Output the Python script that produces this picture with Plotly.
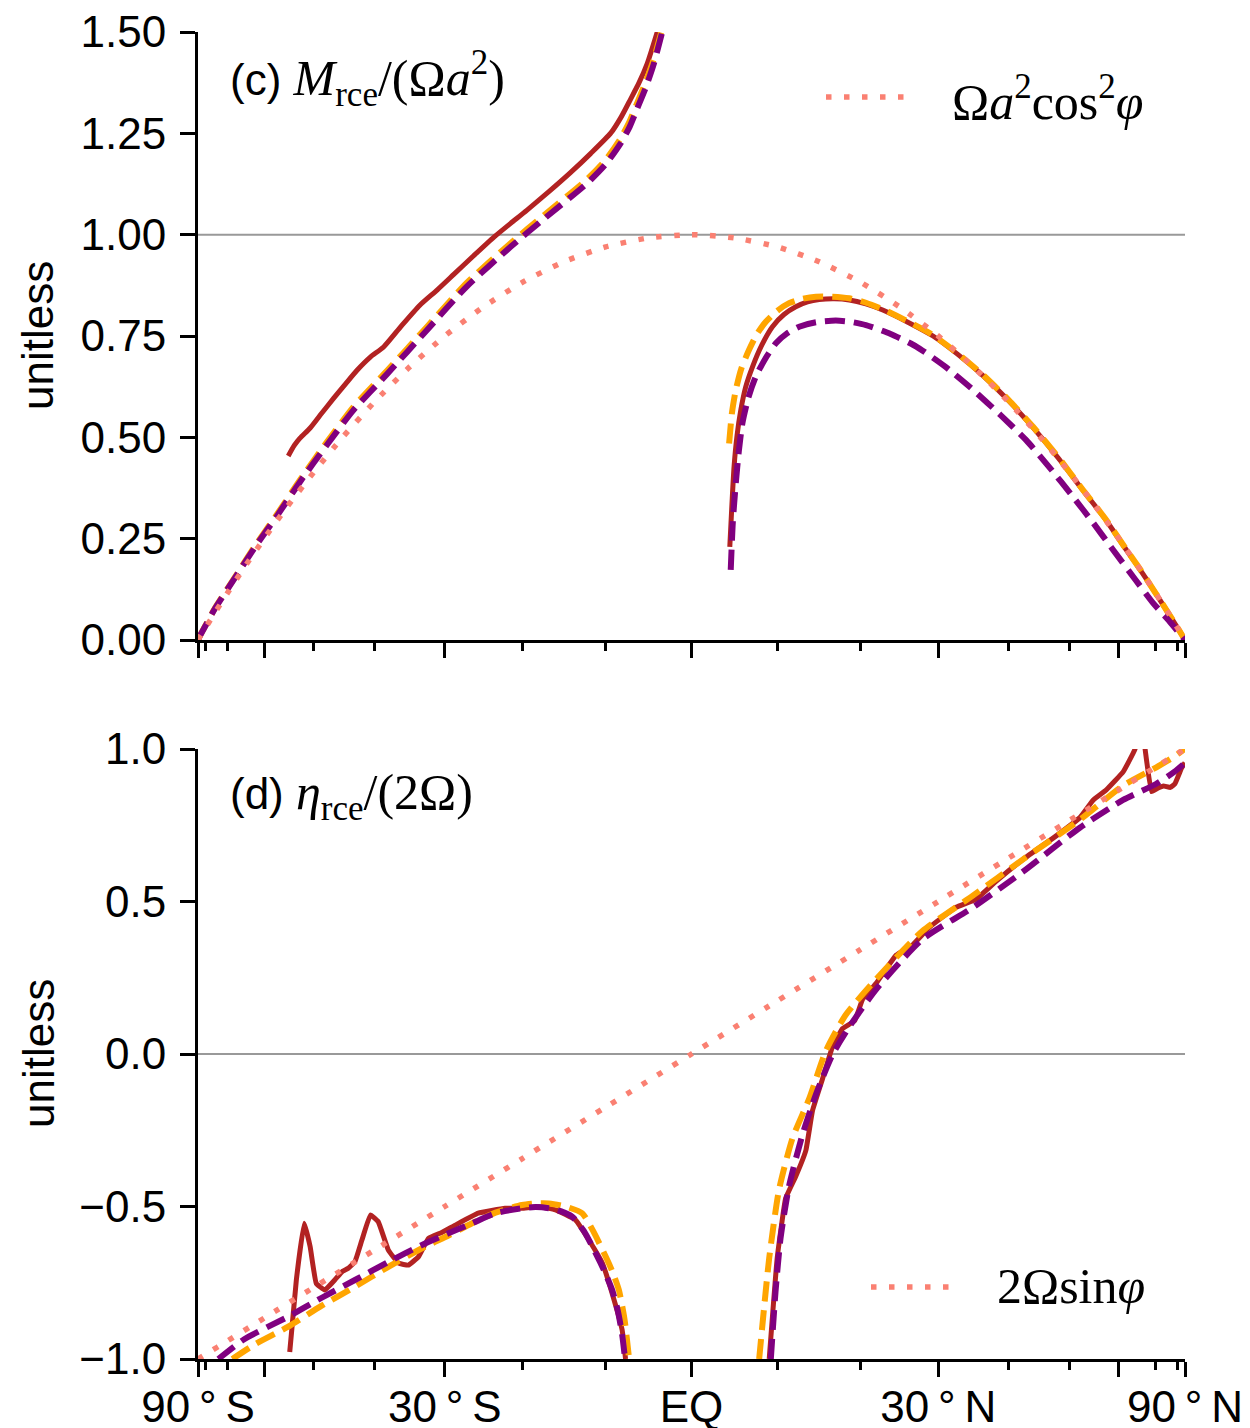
import numpy as np
import plotly.graph_objects as go

# ---------------- data (latitude in degrees, values unitless) ----------------
# Panel (c): M_rce / (Omega a^2)
c_red_s_lat = [-54.8, -53.6, -52.5, -50.6, -48.5, -46.5, -44.5, -42.7, -40.6, -38.6, -36.0, -33.4, -31.0,
               -28.8, -26.2, -23.6, -21.5, -19.5, -16.8, -14.2, -11.8, -9.4, -8.2, -7.1, -6.1, -5.15, -3.98]
c_red_s_val = [0.454, 0.480, 0.498, 0.523, 0.560, 0.596, 0.632, 0.665, 0.698, 0.723, 0.775, 0.826, 0.864,
               0.902, 0.948, 0.994, 1.028, 1.060, 1.106, 1.153, 1.200, 1.251, 1.290, 1.334, 1.375, 1.422, 1.50]

c_pur_s_lat = [-90.0, -85.0, -80.0, -75.0, -67.3, -62.0, -57.2, -52.5, -47.7, -43.3, -38.1, -32.4, -27.1,
               -21.5, -17.4, -12.2, -10.0, -8.3, -7.2, -6.3, -5.3, -4.4, -3.4]
c_pur_s_val = [0.000, 0.010, 0.035, 0.077, 0.158, 0.232, 0.305, 0.390, 0.480, 0.566, 0.656, 0.765, 0.872,
               0.970, 1.039, 1.127, 1.174, 1.224, 1.266, 1.312, 1.364, 1.420, 1.50]

c_ora_s_lat = [-90.0, -85.0, -80.0, -75.0, -67.3, -62.0, -57.2, -52.5, -47.7, -43.3, -38.1, -32.4, -27.1,
               -21.5, -17.4, -12.2, -10.0, -8.3, -7.2, -6.3, -5.3, -4.4, -3.5]
c_ora_s_val = [0.000, 0.010, 0.036, 0.078, 0.160, 0.235, 0.309, 0.395, 0.487, 0.574, 0.664, 0.773, 0.881,
               0.979, 1.048, 1.137, 1.185, 1.236, 1.280, 1.326, 1.378, 1.432, 1.50]

c_red_n_lat = [4.45, 4.7, 4.95, 5.3, 5.73, 6.3, 7.1, 8.2, 9.44, 10.8, 12.2, 13.6, 15.0, 16.8, 18.65, 20.7, 22.8,
               26.0, 29.3, 32.7, 36.2, 40.0, 43.8, 48.0, 52.5, 57.0, 61.8, 65.5, 69.3, 75.0, 81.9, 90.0]
c_red_n_val = [0.230, 0.335, 0.428, 0.505, 0.567, 0.624, 0.674, 0.728, 0.773, 0.803, 0.822, 0.834, 0.840,
               0.842, 0.839, 0.829, 0.814, 0.784, 0.750, 0.704, 0.652, 0.590, 0.524, 0.449, 0.369, 0.298,
               0.222, 0.172, 0.125, 0.067, 0.020, 0.000]

c_ora_n_lat = [4.37, 4.7, 5.15, 5.8, 6.7, 7.6, 8.66, 10.0, 11.4, 13.0, 14.6, 16.6, 18.65, 20.7, 22.8, 26.0,
               29.3, 32.7, 36.2, 40.0, 43.8, 48.0, 52.5, 57.0, 61.8, 65.5, 69.3, 75.0, 81.9, 90.0]
c_ora_n_val = [0.485, 0.560, 0.617, 0.670, 0.716, 0.754, 0.785, 0.812, 0.831, 0.842, 0.847, 0.847, 0.843,
               0.832, 0.816, 0.786, 0.752, 0.706, 0.654, 0.592, 0.526, 0.451, 0.370, 0.299, 0.223, 0.173,
               0.125, 0.067, 0.020, 0.000]

c_pur_n_lat = [4.56, 4.8, 5.15, 5.5, 5.92, 6.6, 7.49, 8.6, 9.84, 11.2, 12.6, 14.6, 17.0, 18.8, 20.7, 23.8,
               27.1, 30.9, 34.8, 38.7, 42.7, 46.6, 50.6, 54.6, 58.7, 64.0, 69.3, 75.0, 80.0, 90.0]
c_pur_n_val = [0.173, 0.290, 0.387, 0.465, 0.535, 0.597, 0.650, 0.694, 0.732, 0.757, 0.773, 0.784, 0.788,
               0.785, 0.777, 0.755, 0.724, 0.675, 0.617, 0.556, 0.493, 0.424, 0.354, 0.287, 0.222, 0.150,
               0.091, 0.050, 0.022, 0.000]

c_ref_lat = [-90, -85, -80, -75, -70, -65, -60, -55, -50, -45, -40, -35, -30, -25, -20, -15, -10, -5, 0,
             5, 10, 15, 20, 25, 30, 35, 40, 45, 50, 55, 60, 65, 70, 75, 80, 85, 90]
c_ref_val = [0.000, 0.008, 0.030, 0.067, 0.117, 0.179, 0.250, 0.329, 0.413, 0.500, 0.587, 0.671, 0.750,
             0.821, 0.883, 0.933, 0.970, 0.992, 1.000, 0.992, 0.970, 0.933, 0.883, 0.821, 0.750, 0.671,
             0.587, 0.500, 0.413, 0.329, 0.250, 0.179, 0.117, 0.067, 0.030, 0.008, 0.000]

# Panel (d): eta_rce / (2 Omega)
d_red_s_lat = [-54.5, -53.2, -51.7, -50.6, -49.5, -48.0, -46.3, -45.0, -44.1, -43.0, -41.9, -40.6, -39.4,
               -37.9, -36.4, -35.0, -33.6, -32.2, -30.4, -28.6, -25.6, -22.2, -20.1, -18.0, -16.0, -13.6,
               -12.0, -10.4, -9.25, -8.08, -7.68]
d_red_s_val = [-0.977, -0.741, -0.555, -0.632, -0.752, -0.774, -0.741, -0.712, -0.703, -0.681, -0.610,
               -0.528, -0.550, -0.643, -0.686, -0.692, -0.665, -0.604, -0.585, -0.561, -0.522, -0.506,
               -0.506, -0.501, -0.511, -0.544, -0.610, -0.686, -0.785, -0.905, -1.000]

d_pur_s_lat = [-73.5, -65.0, -54.8, -48.6, -43.0, -37.9, -33.1, -29.5, -26.4, -23.4, -20.1, -18.4, -16.8,
               -15.3, -14.0, -12.6, -11.2, -10.2, -9.25, -8.6, -8.08, -7.7]
d_pur_s_val = [-1.000, -0.935, -0.861, -0.800, -0.741, -0.682, -0.626, -0.588, -0.555, -0.522, -0.506,
               -0.502, -0.506, -0.516, -0.533, -0.580, -0.653, -0.710, -0.774, -0.840, -0.920, -1.010]

d_ora_s_lat = [-68.5, -62.0, -54.8, -48.6, -43.0, -37.9, -33.1, -29.5, -26.4, -23.4, -20.1, -18.4, -16.8,
               -14.8, -12.8, -11.5, -10.0, -9.2, -8.46, -7.8, -7.29, -7.0]
d_ora_s_val = [-1.000, -0.950, -0.894, -0.826, -0.763, -0.698, -0.637, -0.595, -0.555, -0.520, -0.495,
               -0.490, -0.490, -0.500, -0.522, -0.580, -0.665, -0.715, -0.774, -0.870, -0.992, -1.050]

d_red_n_lat = [9.06, 10.0, 11.0, 12.2, 13.4, 14.2, 15.4, 16.6, 17.8, 19.3, 20.3, 22.0, 24.5, 26.6, 28.8,
               32.4, 35.2, 38.1, 42.2, 47.7, 51.9, 54.5, 57.2, 61.0, 64.0, 65.5, 66.8, 68.8, 71.0, 73.0,
               76.0, 78.4, 83.3, 90.0]
d_red_n_val = [-1.000, -0.669, -0.473, -0.401, -0.316, -0.185, -0.081, 0.024, 0.083, 0.109, 0.180, 0.233,
               0.324, 0.357, 0.415, 0.481, 0.507, 0.566, 0.638, 0.716, 0.775, 0.833, 0.866, 0.925, 1.000,
               1.120, 1.000, 0.860, 0.872, 0.879, 0.874, 0.886, 0.938, 0.955]

d_ora_n_lat = [7.88, 8.5, 9.06, 10.2, 11.8, 13.8, 15.8, 18.2, 22.0, 27.9, 34.8, 42.2, 51.9, 61.0, 70.4,
               78.0, 85.3, 90.0]
d_ora_n_val = [-1.000, -0.820, -0.669, -0.447, -0.277, -0.146, 0.010, 0.128, 0.246, 0.403, 0.520, 0.638,
               0.768, 0.880, 0.940, 0.975, 0.997, 1.000]

d_pur_n_lat = [9.25, 9.8, 10.4, 11.4, 13.0, 14.6, 16.6, 18.65, 22.0, 27.9, 34.8, 42.2, 51.9, 61.0, 70.4,
               78.0, 85.3, 90.0]
d_pur_n_val = [-1.000, -0.780, -0.603, -0.433, -0.264, -0.133, -0.002, 0.089, 0.213, 0.376, 0.481, 0.598,
               0.742, 0.833, 0.886, 0.925, 0.950, 0.955]

d_ref_lat = [-90, -80, -70, -60, -50, -40, -30, -20, -10, 0, 10, 20, 30, 40, 50, 60, 70, 80, 90]
d_ref_val = [-1.000, -0.985, -0.940, -0.866, -0.766, -0.643, -0.500, -0.342, -0.174, 0.000, 0.174, 0.342,
             0.500, 0.643, 0.766, 0.866, 0.940, 0.985, 1.000]

# tick labels
major_lat = [-90, -60, -30, 0, 30, 60, 90]
major_txt = ["90\u2009°\u2009S", "", "30\u2009°\u2009S", "EQ", "30\u2009°\u2009N", "", "90\u2009°\u2009N"]
minor_lat = [-80, -70, -50, -40, -20, -10, 10, 20, 40, 50, 70, 80]
c_yticks = [0.0, 0.25, 0.5, 0.75, 1.0, 1.25, 1.5]
d_yticks = [-1.0, -0.5, 0.0, 0.5, 1.0]

# ---------------- figure ----------------
W, H = 1250, 1428
OFF = 8  # page body margin
RED, ORANGE, PURPLE, SALMON = "#B22222", "#FFA500", "#800080", "#FA8072"
SANS = "Liberation Sans, Arial, sans-serif"
FS = 44
DASH = "20px,9px"
DOT = "5.5px,12.5px"


def sinlat(lat):
    return np.sin(np.deg2rad(np.asarray(lat, dtype=float)))


def px(x):
    return (x - OFF) / W


def py(y):
    return 1 - (y - OFF) / H


fig = go.Figure()


def add(lat, val, color, dash, width, xa, ya, smooth=0.6):
    fig.add_trace(go.Scatter(
        x=sinlat(lat), y=val, mode="lines",
        line=dict(color=color, dash=dash, width=width, shape="spline", smoothing=smooth),
        xaxis=xa, yaxis=ya, showlegend=False, hoverinfo="skip"))


# panel (c)
add(c_red_s_lat, c_red_s_val, RED, "solid", 5, "x", "y")
add(c_red_n_lat, c_red_n_val, RED, "solid", 5, "x", "y")
add(c_ora_s_lat, c_ora_s_val, ORANGE, DASH, 6, "x", "y")
add(c_ora_n_lat, c_ora_n_val, ORANGE, DASH, 6, "x", "y")
add(c_pur_s_lat, c_pur_s_val, PURPLE, DASH, 6, "x", "y")
add(c_pur_n_lat, c_pur_n_val, PURPLE, DASH, 6, "x", "y")
add(c_ref_lat, c_ref_val, SALMON, DOT, 5.5, "x", "y")

# panel (d)
add(d_red_s_lat, d_red_s_val, RED, "solid", 5, "x2", "y2", smooth=0.3)
add(d_red_n_lat, d_red_n_val, RED, "solid", 5, "x2", "y2", smooth=0.3)
add(d_ora_s_lat, d_ora_s_val, ORANGE, DASH, 6, "x2", "y2")
add(d_ora_n_lat, d_ora_n_val, ORANGE, DASH, 6, "x2", "y2")
add(d_pur_s_lat, d_pur_s_val, PURPLE, DASH, 6, "x2", "y2")
add(d_pur_n_lat, d_pur_n_val, PURPLE, DASH, 6, "x2", "y2")
add(d_ref_lat, d_ref_val, SALMON, DOT, 5.5, "x2", "y2")

xdom = [px(198), px(1185)]
common_x = dict(
    range=[-1, 1], domain=xdom, tickmode="array", automargin=False,
    tickvals=sinlat(major_lat).tolist(), ticktext=major_txt,
    ticks="outside", ticklen=15, tickwidth=3, tickcolor="black",
    showline=True, linewidth=3, linecolor="black", showgrid=False, zeroline=False,
    tickfont=dict(family=SANS, size=FS, color="black"), ticklabeloverflow="allow",
    minor=dict(tickmode="array", tickvals=sinlat(minor_lat).tolist(), ticks="outside",
               ticklen=8, tickwidth=2.5, tickcolor="black", showgrid=False),
)
common_y = dict(
    ticks="outside", ticklen=15, tickwidth=3, tickcolor="black", automargin=False,
    showline=True, linewidth=3, linecolor="black", showgrid=False, zeroline=False,
    tickfont=dict(family=SANS, size=FS, color="black"), tickmode="array",
    ticklabelstandoff=5, ticklabeloverflow="allow",
)

fig.update_layout(
    template="none",
    width=W, height=H, margin=dict(l=0, r=0, t=0, b=0, autoexpand=False),
    paper_bgcolor="white", plot_bgcolor="white", showlegend=False,
    xaxis=dict(common_x, anchor="y", showticklabels=False),
    yaxis=dict(common_y, anchor="x", domain=[py(640), py(32)], range=[0, 1.5],
               tickvals=c_yticks, tickformat=".2f"),
    xaxis2=dict(common_x, anchor="y2", showticklabels=True, ticklabelstandoff=-8),
    yaxis2=dict(common_y, anchor="x2", domain=[py(1359), py(749)], range=[-1, 1],
                tickvals=d_yticks, tickformat=".1f"),
)

# gray reference lines
fig.add_shape(type="line", xref="x domain", yref="y", x0=0, x1=1, y0=1, y1=1,
              line=dict(color="#999999", width=2), layer="below")
fig.add_shape(type="line", xref="x2 domain", yref="y2", x0=0, x1=1, y0=0, y1=0,
              line=dict(color="#999999", width=2), layer="below")

# legend keys (dotted reference curves)
fig.add_shape(type="line", xref="paper", yref="paper", x0=px(826), x1=px(916), y0=py(97), y1=py(97),
              line=dict(color=SALMON, width=5.5, dash=DOT))
fig.add_shape(type="line", xref="paper", yref="paper", x0=px(871), x1=px(961), y0=py(1287), y1=py(1287),
              line=dict(color=SALMON, width=5.5, dash=DOT))

MS = 'font-family:Liberation Serif;font-size:50px'
ann = [
    dict(x=px(228), y=py(78),
         text=f'(c) <span style="{MS}"><i>M</i><sub>rce</sub>/(Ω<i>a</i><sup>2</sup>)</span>'),
    dict(x=px(228), y=py(796),
         text=f'(d) <span style="{MS}"><i>η</i><sub>rce</sub>/(2Ω)</span>'),
    dict(x=px(950), y=py(98),
         text=f'<span style="{MS}">Ω<i>a</i><sup>2</sup>cos<sup>2</sup><i>φ</i></span>'),
    dict(x=px(995), y=py(1286),
         text=f'<span style="{MS}">2Ωsin<i>φ</i></span>'),
]
for a in ann:
    fig.add_annotation(xref="paper", yref="paper", xanchor="left", yanchor="middle",
                       showarrow=False, font=dict(family=SANS, size=FS, color="black"), **a)

for yc in (336, 1054):
    fig.add_annotation(xref="paper", yref="paper", x=px(38), y=py(yc), text="unitless",
                       textangle=-90, showarrow=False, xanchor="center", yanchor="middle",
                       font=dict(family=SANS, size=FS, color="black"))

fig.write_html("out.html")
